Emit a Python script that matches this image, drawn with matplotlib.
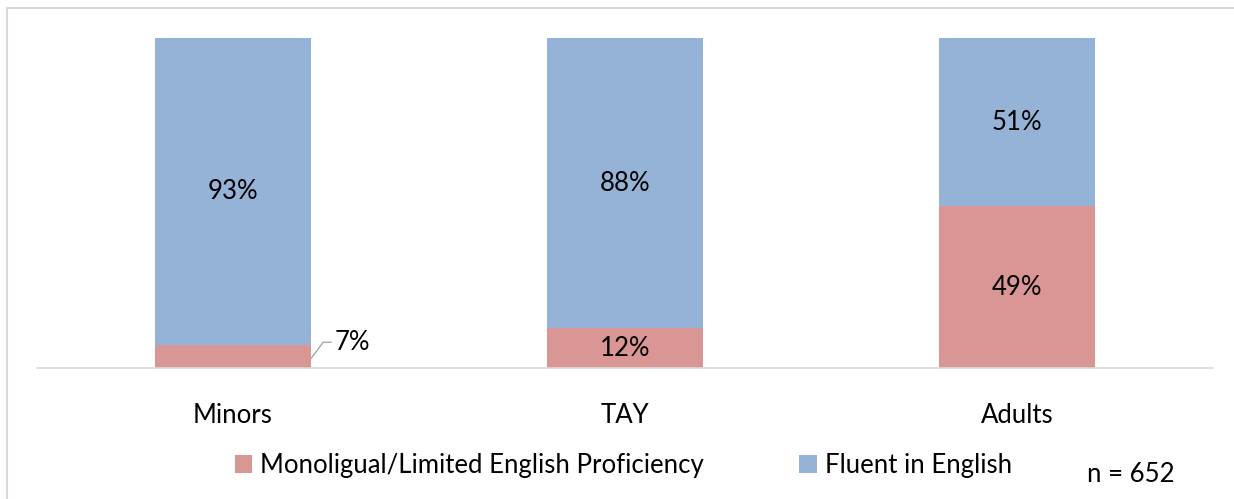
import numpy as np
import matplotlib.pyplot as plt
from matplotlib.patches import Rectangle

categories = ["Minors", "TAY", "Adults"]
limited = [7, 12, 49]
fluent = [93, 88, 51]
series_names = ["Monoligual/Limited English Proficiency", "Fluent in English"]

plt.rcParams['font.family'] = ['Lato', 'DejaVu Sans']
FS = 18.5

fig = plt.figure(figsize=(12.34, 4.99), dpi=100)
ax = fig.add_axes([37 / 1234, 1 - 368 / 499, (1213 - 37) / 1234, (368 - 38) / 499])

pink = '#D99694'
blue = '#95B3D7'
x = np.arange(len(categories))
width = 0.4

b1 = ax.bar(x, limited, width, color=pink, label=series_names[0])
b2 = ax.bar(x, fluent, width, bottom=limited, color=blue, label=series_names[1])

ax.set_xlim(-0.5, 2.5)
ax.set_ylim(0, 100)
for s in ['top', 'right', 'left']:
    ax.spines[s].set_visible(False)
ax.spines['bottom'].set_color('#D9D9D9')
ax.spines['bottom'].set_linewidth(1.2)
ax.set_yticks([])
ax.set_xticks(x)
ax.set_xticklabels(categories, fontsize=FS)
ax.tick_params(axis='x', length=0, pad=25)

# value labels
for i in range(len(categories)):
    ax.text(x[i], limited[i] + fluent[i] / 2, f'{fluent[i]}%', ha='center', va='center', fontsize=FS)
    if limited[i] >= 10:
        ax.text(x[i], limited[i] / 2, f'{limited[i]}%', ha='center', va='center', fontsize=FS)
    else:
        x0 = x[i] + width / 2
        ax.plot([x0, x0 + 0.03, x0 + 0.05], [limited[i] / 2 - 0.5, limited[i] + 0.8, limited[i] + 0.8],
                color='#A6A6A6', lw=1, clip_on=False)
        ax.text(x0 + 0.06, limited[i] + 0.8, f'{limited[i]}%', ha='left', va='center', fontsize=FS)

fig.legend(handles=[b1, b2], loc='center', bbox_to_anchor=(0.505, 1 - 465 / 499), ncol=2,
           frameon=False, fontsize=FS, handlelength=0.7, handleheight=0.7,
           handletextpad=0.3, columnspacing=3.7)

fig.text(1087 / 1234, 1 - 474 / 499, 'n = 652', ha='left', va='center', fontsize=FS)

fig.patches.append(Rectangle((7 / 1234, -0.1), 1.2, 1 - 8 / 499 + 0.1, transform=fig.transFigure,
                             fill=False, edgecolor='#D9D9D9', lw=1.5))

fig.savefig('out.png', dpi=100)
